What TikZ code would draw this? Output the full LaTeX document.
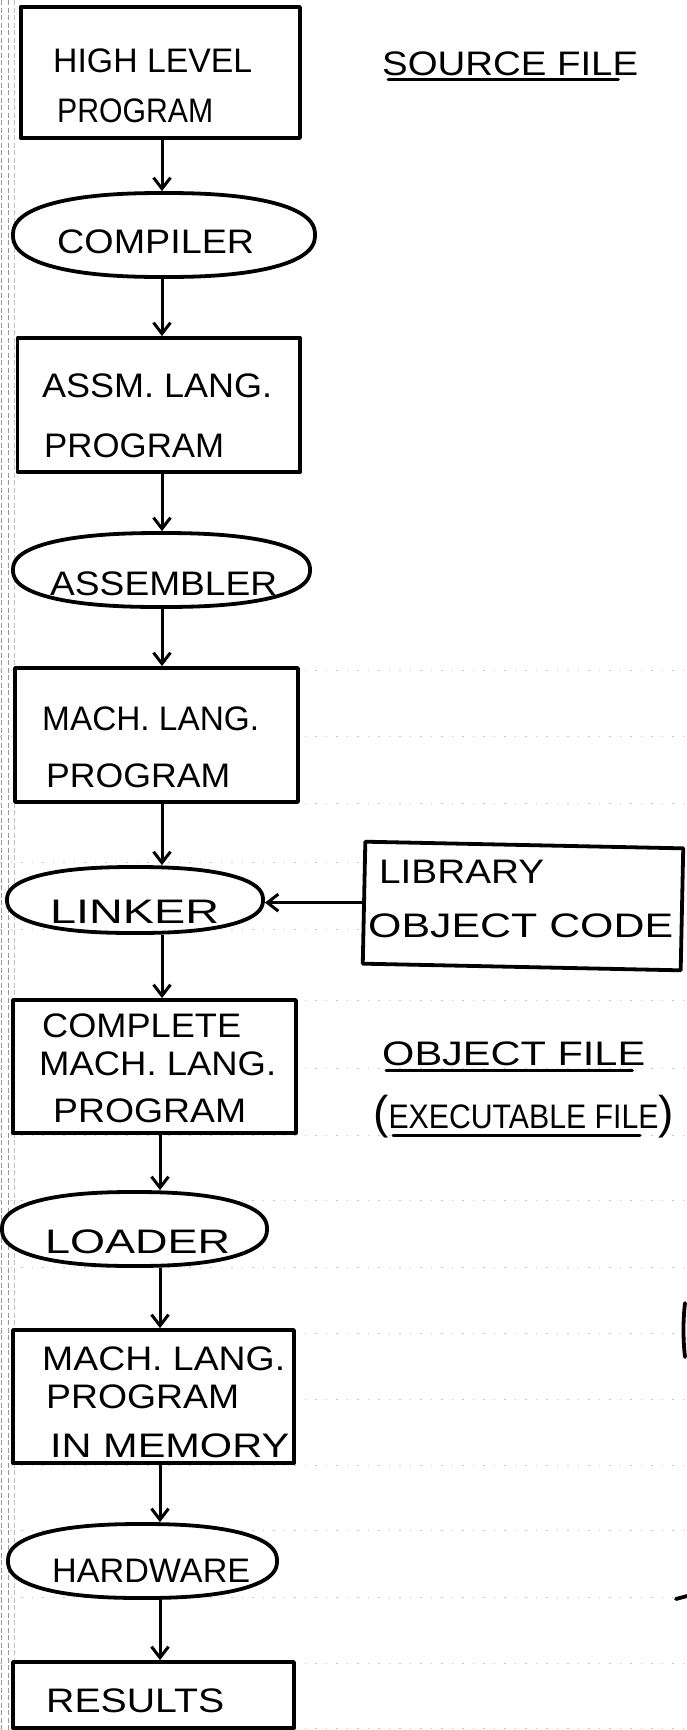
\documentclass[tikz,border=0pt]{standalone}
\usepackage{fontspec}
\setmainfont{Liberation Sans}
\usepackage{graphicx}
\usetikzlibrary{shapes.geometric,arrows.meta}

% set a line of lettering to a given width (in pt), keeping its height
\newcommand\fitw[2]{\resizebox{#1pt}{\height}{#2}}
\newcommand\tallparen[1]{{\fontsize{46}{46}\selectfont #1}}
% hand-drawn looking oval (slightly full ellipse) round a node: name, x radius, y radius
\newcommand\blobline[3]{%
  \draw[ink, fill=white, shift={(#1.center)}]
    plot[domain=1:361, samples=121, variable=\t, smooth]
    ({#2*cos(\t)*abs(cos(\t))^(-0.15)}, {#3*sin(\t)*abs(sin(\t))^(-0.15)}) -- cycle;}

\begin{document}
\begin{tikzpicture}[x=1pt,y=-1pt,
  ink/.style={line width=3.8pt, line join=round},
  stepbox/.style={draw, ink, fill=white, rectangle, inner sep=0pt},
  procblob/.style={ellipse, ink, inner sep=0pt},
  lbl/.style={inner sep=0pt, anchor=base west, font=\fontsize{34}{40}\selectfont},
  flow/.style={line width=3pt, -{Straight Barb[length=11pt,width=17pt]}},
  ul/.style={line width=3pt, line cap=round},
  ruling/.style={black!22, line width=0.6pt, dash pattern=on 1.5pt off 9pt},
  marginline/.style={black!40, line width=0.6pt, dash pattern=on 5pt off 2.5pt}]

\useasboundingbox[fill=white] (0,0) rectangle (687,1730);

% notebook paper: margin lines and faint rulings
\draw[marginline] (1.5,0) -- (1.5,1730);
\draw[marginline] (8,0) -- (8,1730);
\draw[marginline, black!25] (14.5,0) -- (14.5,1730);
\foreach \ry in {670,736,803,862,929,1000,1068,1135,1200,1267,1333,1399,1465,1530,1597,1663,1728}
  \draw[ruling] (0,\ry) -- (687,\ry);

% spine of the main flow
\coordinate (sp) at (162,0);
\coordinate (sq) at (160,0);

% program stages (boxes) and tools (ovals)
\node[stepbox, minimum width=279.4pt, minimum height=131pt] (b1) at (160.3,72.5) {};
\node[procblob, minimum width=302pt, minimum height=84pt] (e1) at (164,235) {};
\node[stepbox, minimum width=282.5pt, minimum height=134pt] (b2) at (158.8,405) {};
\node[procblob, minimum width=297pt, minimum height=74pt] (e2) at (161.5,570) {};
\node[stepbox, minimum width=283pt, minimum height=134pt] (b3) at (156.5,735) {};
\node[procblob, minimum width=256pt, minimum height=66pt] (e3) at (135,900) {};
\node[stepbox, minimum width=318pt, minimum height=122pt, rotate=-1.2] (lib) at (523,906) {};
\node[stepbox, minimum width=283pt, minimum height=133pt] (b4) at (154.5,1066.5) {};
\node[procblob, minimum width=265pt, minimum height=74pt] (e4) at (134.5,1229) {};
\node[stepbox, minimum width=281pt, minimum height=133pt] (b5) at (153.5,1396.5) {};
\node[procblob, minimum width=269pt, minimum height=74pt] (e5) at (142.5,1561) {};
\node[stepbox, minimum width=281pt, minimum height=66pt] (b6) at (153.5,1695) {};

\blobline{e1}{151}{42}
\blobline{e2}{148.5}{37}
\blobline{e3}{128}{33}
\blobline{e4}{132.5}{37}
\blobline{e5}{134.5}{37}

% lettering
\node[lbl] (t1a) at (53,72) {\fitw{199}{HIGH LEVEL}};
\node[lbl] (t1b) at (57,122) {\fitw{156}{PROGRAM}};
\node[lbl] (src) at (382,75) {\fitw{256}{SOURCE FILE}};
\node[lbl] (t2) at (57,253) {\fitw{197}{COMPILER}};
\node[lbl] (t3a) at (42,397) {\fitw{230}{ASSM. LANG.}};
\node[lbl] (t3b) at (44,457) {\fitw{180}{PROGRAM}};
\node[lbl] (t4) at (50,595) {\fitw{227}{ASSEMBLER}};
\node[lbl] (t5a) at (42,730) {\fitw{217}{MACH. LANG.}};
\node[lbl] (t5b) at (46,787) {\fitw{184}{PROGRAM}};
\node[lbl] (t6) at (50,923) {\fitw{169}{LINKER}};
\node[lbl] (t7a) at (379,883) {\fitw{165}{LIBRARY}};
\node[lbl] (t7b) at (368,937) {\fitw{305}{OBJECT CODE}};
\node[lbl] (t8a) at (42,1037) {\fitw{199}{COMPLETE}};
\node[lbl] (t8b) at (39,1075) {\fitw{237}{MACH. LANG.}};
\node[lbl] (t8c) at (53,1122) {\fitw{193}{PROGRAM}};
\node[lbl] (obj) at (382,1065) {\fitw{263}{OBJECT FILE}};
\node[lbl] (exe) at (373,1128) {\tallparen{(}\fitw{270}{EXECUTABLE FILE}\tallparen{)}};
\node[lbl] (t9) at (45,1253) {\fitw{185}{LOADER}};
\node[lbl] (t10a) at (42,1370) {\fitw{243}{MACH. LANG.}};
\node[lbl] (t10b) at (46,1408) {\fitw{193}{PROGRAM}};
\node[lbl] (t10c) at (50,1457) {\fitw{239}{IN MEMORY}};
\node[lbl] (t11) at (52,1582) {\fitw{198}{HARDWARE}};
\node[lbl] (t12) at (46,1712) {\fitw{178}{RESULTS}};

% underlines of the side notes
\draw[ul] ([shift={(6,4)}]src.base west) -- ([shift={(-20,4)}]src.base east);
\draw[ul] ([shift={(4,5)}]obj.base west) -- ([shift={(-13,5)}]obj.base east);
\draw[ul] ([shift={(20,7)}]exe.base west) -- ++(247,0);

% flow arrows
\draw[flow] (b1.south -| sp) -- (sp |- e1.north);
\draw[flow] (e1.south -| sp) -- (sp |- b2.north);
\draw[flow] (b2.south -| sp) -- (sp |- e2.north);
\draw[flow] (e2.south -| sp) -- (sp |- b3.north);
\draw[flow] (b3.south -| sp) -- (sp |- e3.north);
\draw[flow] (e3.south -| sp) -- (sp |- b4.north);
\draw[flow] (b4.south -| sq) -- (sq |- e4.north);
\draw[flow] (e4.south -| sq) -- (sq |- b5.north);
\draw[flow] (b5.south -| sq) -- (sq |- e5.north);
\draw[flow] (e5.south -| sq) -- (sq |- b6.north);
\draw[flow] (lib.west) -- (lib.west -| e3.east);

% stray pen marks at the right edge
\draw[ink, line cap=round] (685,1303) .. controls (683,1320) and (683,1340) .. (685,1357);
\draw[ink, line cap=round] (676,1599) -- (687,1596);
\end{tikzpicture}
\end{document}
